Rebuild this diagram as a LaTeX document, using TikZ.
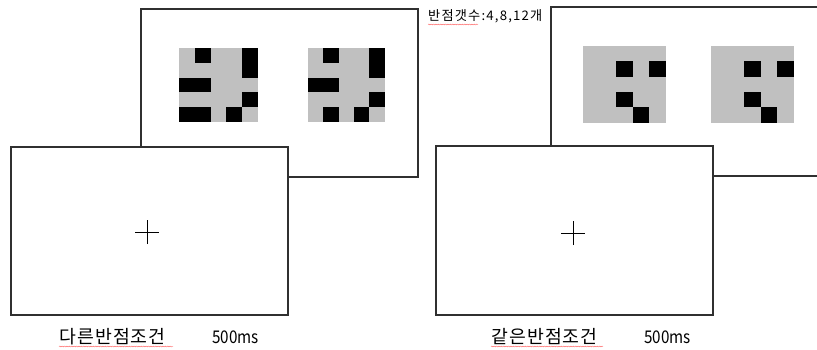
\documentclass[tikz,border=0pt]{standalone}
\usepackage{fontspec}
\setmainfont{Noto Sans CJK KR}
\usetikzlibrary{decorations.pathmorphing}
\definecolor{cellgrey}{HTML}{C0C0C0}
\definecolor{frameline}{HTML}{303030}
\tikzset{
  screen/.style={draw=frameline, line width=1.1pt, fill=white},
  fixcross/.style={draw=black, line width=0.9pt},
  squiggle/.style={draw=red!70, line width=0.35pt, decorate, decoration={snake, amplitude=0.5pt, segment length=2.4pt}},
  lbl/.style={inner sep=0pt, anchor=west, font=\addfontfeature{LetterSpace=6}\fontsize{18.3}{18.3}\selectfont},
  mslbl/.style={inner sep=0pt, anchor=west, font=\addfontfeature{FakeStretch=0.87}\fontsize{17.5}{17.5}\selectfont},
  toplbl/.style={inner sep=0pt, anchor=west, font=\addfontfeature{LetterSpace=9}\fontsize{13.2}{13.2}\selectfont}
}
\begin{document}
\begin{tikzpicture}[x=1pt, y=-1pt]
\useasboundingbox (0,0) rectangle (817,349);
% ---------- left condition ----------
\path[screen] (141,9) rectangle (418,177);
% pattern 1 (left)
\begin{scope}[shift={(179,48)}, x=15.8pt, y=-14.8pt]
  \fill[cellgrey] (0,0) rectangle (5,5);
  \fill[black] (1,0) rectangle (2,1);
  \fill[black] (4,0) rectangle (5,2);
  \fill[black] (0,2) rectangle (2,3);
  \fill[black] (4,3) rectangle (5,4);
  \fill[black] (0,4) rectangle (2,5);
  \fill[black] (3,4) rectangle (4,5);
\end{scope}
% pattern 2 (left)
\begin{scope}[shift={(308,48)}, x=15.3pt, y=-14.8pt]
  \fill[cellgrey] (0,0) rectangle (5,5);
  \fill[black] (1,0) rectangle (2,1);
  \fill[black] (4,0) rectangle (5,2);
  \fill[black] (0,2) rectangle (2,3);
  \fill[black] (4,3) rectangle (5,4);
  \fill[black] (1,4) rectangle (2,5);
  \fill[black] (3,4) rectangle (4,5);
\end{scope}
\path[screen] (11,147) rectangle (288,315);
\coordinate (fixL) at (147,232);
\draw[fixcross] ([xshift=-12pt]fixL) -- ([xshift=12pt]fixL);
\draw[fixcross] ([yshift=-12pt]fixL) -- ([yshift=12pt]fixL);
\node[lbl] (condL) at (59,337) {다른반점조건};
\node[mslbl] (msL) at (212,337) {500ms};
\draw[squiggle] (59,346.5) -- (173,346.5);
% ---------- right condition ----------
\draw[draw=frameline, line width=1.1pt] (818,7) -- (551,7) -- (551,176) -- (818,176);
\begin{scope}[shift={(583,46)}, x=16.5pt, y=-15.3pt]
  \fill[cellgrey] (0,0) rectangle (5,5);
  \fill[black] (2,1) rectangle (3,2);
  \fill[black] (4,1) rectangle (5,2);
  \fill[black] (2,3) rectangle (3,4);
  \fill[black] (3,4) rectangle (4,5);
\end{scope}
\begin{scope}[shift={(711,46)}, x=16.5pt, y=-15.3pt]
  \fill[cellgrey] (0,0) rectangle (5,5);
  \fill[black] (2,1) rectangle (3,2);
  \fill[black] (4,1) rectangle (5,2);
  \fill[black] (2,3) rectangle (3,4);
  \fill[black] (3,4) rectangle (4,5);
\end{scope}
\path[screen] (436,146) rectangle (713,315);
\coordinate (fixR) at (573,233);
\draw[fixcross] ([xshift=-12pt]fixR) -- ([xshift=12pt]fixR);
\draw[fixcross] ([yshift=-12pt]fixR) -- ([yshift=12pt]fixR);
\node[lbl] (condR) at (491,337) {같은반점조건};
\node[mslbl] (msR) at (644,337) {500ms};
\draw[squiggle] (491,346.5) -- (603,346.5);
% ---------- top note ----------
\node[toplbl] (note) at (428,16) {반점갯수:4,8,12개};
\draw[squiggle] (428,24.5) -- (478,24.5);
\end{tikzpicture}
\end{document}
